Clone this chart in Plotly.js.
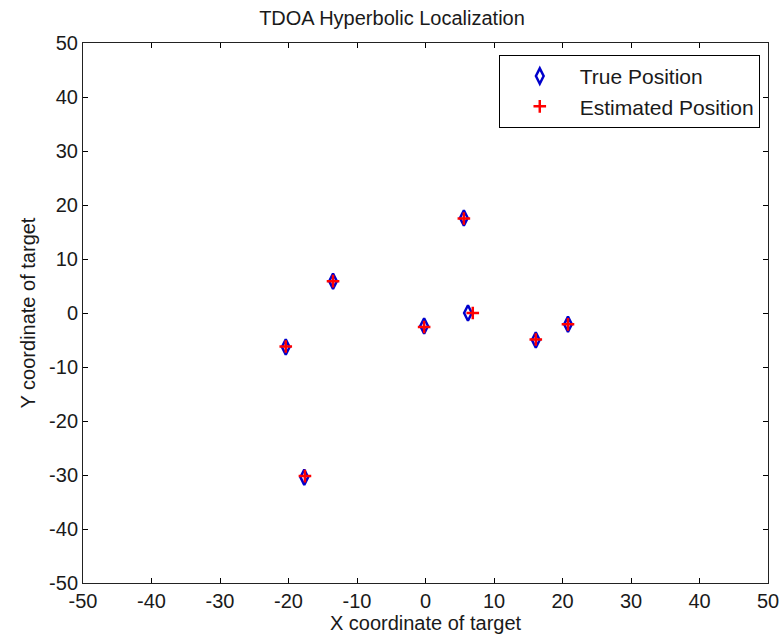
<!DOCTYPE html>
<html>
<head>
<meta charset="utf-8">
<script src="https://cdn.plot.ly/plotly-3.0.1.min.js"></script>
<style>html,body{margin:0;padding:0;background:#fff;}#chart{width:784px;height:643px;}</style>
</head>
<body>
<div id="chart"></div>
<script>
const trueX = [-20.4, -13.5, -17.7, -0.2, 6.2, 16.1, 20.8, 5.6];
const trueY = [-6.3, 5.9, -30.4, -2.4, 0.0, -5.0, -2.1, 17.6];
const estX = [-20.4, -13.5, -17.6, -0.2, 6.9, 16.1, 20.8, 5.6];
const estY = [-6.2, 5.9, -30.2, -2.6, 0.0, -4.9, -2.1, 17.5];
const tickVals = [-50, -40, -30, -20, -10, 0, 10, 20, 30, 40, 50];
const tickLabels = ['-50', '-40', '-30', '-20', '-10', '0', '10', '20', '30', '40', '50'];

const font = {family: 'Liberation Sans, Arial, sans-serif', color: '#1a1a1a'};

const traces = [
  {x: trueX, y: trueY, type: 'scatter', mode: 'markers', name: 'True Position',
   marker: {symbol: 'diamond-tall-open', size: 11, color: '#0000cc', line: {width: 2.5, color: '#0000cc'}}},
  {x: estX, y: estY, type: 'scatter', mode: 'markers', name: 'Estimated Position',
   marker: {symbol: 'cross-thin-open', size: 9, color: '#ff0000', line: {width: 2.5, color: '#ff0000'}}}
];

const axisCommon = {
  range: [-50, 50], tickvals: tickVals, ticktext: tickLabels, ticks: 'inside', ticklen: 5, tickwidth: 1, tickcolor: '#000',
  showline: true, linecolor: '#222', linewidth: 1, mirror: 'ticks', showgrid: false, zeroline: false,
  tickfont: Object.assign({size: 20}, font)
};

const layout = {
  width: 784, height: 643,
  margin: {l: 83, r: 16, t: 43, b: 60},
  paper_bgcolor: '#fff', plot_bgcolor: '#fff',
  font: font,
  title: {text: 'TDOA Hyperbolic Localization', font: Object.assign({size: 20}, font), x: 0.5, xanchor: 'center', y: 0.972, yanchor: 'middle'},
  xaxis: Object.assign({}, axisCommon, {title: {text: 'X coordinate of target', font: Object.assign({size: 20}, font), standoff: 4}}),
  yaxis: Object.assign({}, axisCommon, {title: {text: 'Y coordinate of target', font: Object.assign({size: 20}, font), standoff: 8}}),
  showlegend: true,
  legend: {x: 0.988, xanchor: 'right', y: 0.978, yanchor: 'top', bgcolor: '#fff', bordercolor: '#000', borderwidth: 1,
           font: Object.assign({size: 21}, font), itemwidth: 70}
};

Plotly.newPlot('chart', traces, layout, {displayModeBar: false});
</script>
</body>
</html>
